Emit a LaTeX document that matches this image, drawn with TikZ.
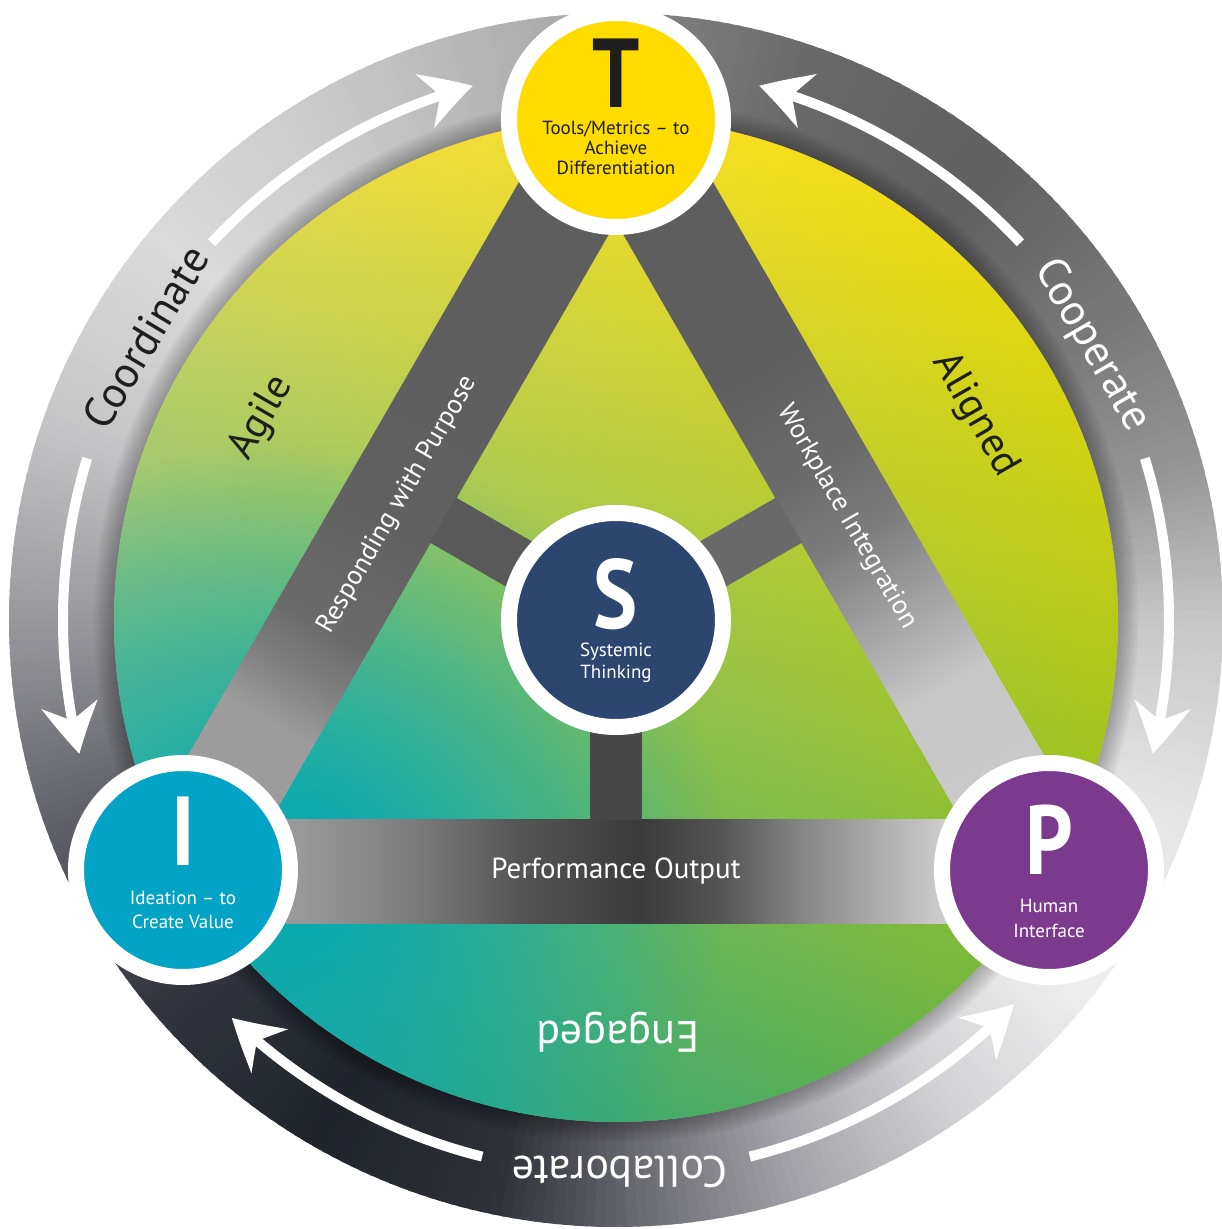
\documentclass[tikz,border=0pt]{standalone}
\usepackage{graphicx}
\usepackage{fontspec}
\setmainfont{PT Sans}
\usetikzlibrary{arrows.meta,bending,shadings,fadings}

\definecolor{tyellow}{HTML}{FFDC00}
\definecolor{iblue}{HTML}{02A3C4}
\definecolor{snavy}{HTML}{2C4670}
\definecolor{ppurple}{HTML}{7C3A8E}
\definecolor{ink}{HTML}{1E1E1E}
\definecolor{dUL}{HTML}{F0DE50}
\definecolor{dUR}{HTML}{FFE000}
\definecolor{dLL}{HTML}{10A0B0}
\definecolor{dLR}{HTML}{70B430}
\definecolor{teal}{HTML}{00A9B6}
\definecolor{rg1}{HTML}{A4A4A4}
\definecolor{rg2}{HTML}{CACACA}
\definecolor{rg3}{HTML}{DADADA}
\definecolor{rg4}{HTML}{C6C6C8}
\definecolor{rg5}{HTML}{98989D}
\definecolor{rg6}{HTML}{606168}
\definecolor{rg7}{HTML}{32353D}
\definecolor{rg8}{HTML}{20242B}
\definecolor{rg9}{HTML}{2D3037}
\definecolor{rg10}{HTML}{696970}
\definecolor{rg11}{HTML}{A3A3A9}
\definecolor{rg12}{HTML}{D3D3D6}
\definecolor{rg13}{HTML}{EFEFEF}
\definecolor{rg14}{HTML}{E6E6E6}
\definecolor{rg15}{HTML}{C6C6C6}
\definecolor{rg16}{HTML}{959595}
\definecolor{rg17}{HTML}{7A7A7A}
\definecolor{rg18}{HTML}{606060}
\definecolor{rg19}{HTML}{686868}
\definecolor{rg20}{HTML}{868686}

\pgfdeclareverticalshading{leftbar}{100bp}{color(0bp)=(black!36); color(33bp)=(black!39);
  color(36.5bp)=(black!50); color(40bp)=(black!58); color(48bp)=(black!62); color(60bp)=(black!63);
  color(100bp)=(black!64)}
\pgfdeclareverticalshading{rightbar}{100bp}{color(0bp)=(black!18); color(35.5bp)=(black!22);
  color(37.7bp)=(black!28); color(41.4bp)=(black!37); color(46.7bp)=(black!51); color(52bp)=(black!58);
  color(60bp)=(black!63); color(100bp)=(black!64)}
\pgfdeclarehorizontalshading{perfbar}{100bp}{color(0bp)=(black!40); color(26bp)=(black!40);
  color(35bp)=(black!52); color(42.7bp)=(black!67); color(51.7bp)=(black!77); color(57.8bp)=(black!67);
  color(63.8bp)=(black!48); color(71.4bp)=(black!28); color(74.5bp)=(black!20); color(100bp)=(black!20)}
\tikzfading[name=glowfade, inner color=transparent!0, outer color=transparent!100]

\tikzset{
  hub/.style={circle, draw=white, line width=16pt, minimum size=214pt, inner sep=0pt},
  letter/.style={font=\fontsize{98}{98}\selectfont\bfseries, text=white, inner sep=0pt},
  hublabel/.style={font=\fontsize{19}{24}\selectfont, align=center, text=white, inner sep=0pt},
  ringlabel/.style={font=\fontsize{44}{44}\selectfont, inner sep=0pt},
  zonelabel/.style={font=\fontsize{41}{41}\selectfont, inner sep=0pt},
  barlabel/.style={font=\fontsize{27}{27}\selectfont, text=white, inner sep=0pt},
  ringarrow/.style={draw=white, line width=10pt, -{Stealth[length=50pt,width=56pt,inset=16pt,bend]}},
  spoke/.style={line width=52pt},
}

\begin{document}
\begin{tikzpicture}[x=1pt,y=1pt]
  \useasboundingbox (-616,-609) rectangle (606,620);

  % outer ring
  \foreach \angA/\angB/\colA/\colB in {90/120/rg1/rg2,120/140/rg2/rg3,140/160/rg3/rg4,160/180/rg4/rg5,
      180/200/rg5/rg6,200/220/rg6/rg7,220/240/rg7/rg8,240/258/rg8/rg9,258/272/rg9/rg10,272/288/rg10/rg11,
      288/305/rg11/rg12,305/322/rg12/rg13,322/340/rg13/rg14,340/360/rg14/rg15,360/375/rg15/rg16,
      375/390/rg16/rg17,390/410/rg17/rg18,410/430/rg18/rg19,430/450/rg19/rg20}{
    \pgfmathtruncatemacro\nn{\angB-\angA}
    \foreach \k in {1,...,\nn}{
      \pgfmathtruncatemacro\pc{100*(\k-0.5)/\nn}
      \pgfmathsetmacro\ang{\angA+\k-1}
      \fill[\colB!\pc!\colA] (\ang:607) arc[start angle=\ang, end angle=\ang+1.4, radius=607]
        -- (\ang+1.4:502) arc[start angle=\ang+1.4, end angle=\ang, radius=502] -- cycle;
    }
  }
  \foreach \k in {1,...,8}{
    \draw[black, opacity=0.035, line width=\k*5pt] (0,0) circle (502);
  }

  % inner disk
  \shade[upper left=dUL, upper right=dUR, lower left=dLL, lower right=dLR] (0,0) circle (502);
  \begin{scope}
    \clip (0,0) circle (502);
    \fill[teal, path fading=glowfade] (-320,-250) circle (430);
  \end{scope}

  % triangle bars
  \coordinate (oT) at (90:606);
  \coordinate (oI) at (210:606);
  \coordinate (oP) at (330:606);
  \coordinate (iT) at (90:398);
  \coordinate (iI) at (210:398);
  \coordinate (iP) at (330:398);
  \shade[shading=leftbar, shading angle=-30] (oT) -- (oI) -- (iI) -- (iT) -- cycle;
  \shade[shading=rightbar, shading angle=30] (oT) -- (oP) -- (iP) -- (iT) -- cycle;
  \shade[shading=perfbar] (-330,-303) rectangle (332,-199);

  \coordinate (c) at (0,0);
  \coordinate (mL) at (150:200);
  \coordinate (mR) at (30:200);
  \coordinate (mB) at (270:200);
  \draw[spoke, black!65] (c) -- (mL);
  \draw[spoke, black!59] (c) -- (mR);
  \draw[spoke, black!72] (c) -- (mB);

  \node[barlabel, rotate=60] (rwp) at (-218,115) {Responding with Purpose};
  \node[barlabel, rotate=-60] (wpi) at (231,103) {Workplace Integration};
  \node[barlabel, font=\fontsize{29}{29}\selectfont] (po) at (0,-251) {Performance Output};

  \node[zonelabel, text=ink, rotate=60] (agile) at (-354,202) {Agile};
  \node[zonelabel, text=ink, rotate=-60] (aligned) at (359,205) {Aligned};
  \node[zonelabel, text=white, rotate=180, font=\fontsize{44}{44}\selectfont] (engaged) at (2,-412) {Engaged};

  % ring arrows and words
  \draw[ringarrow] (137:553) arc[start angle=137, end angle=105, radius=553];
  \draw[ringarrow] (163:553) arc[start angle=163, end angle=194, radius=553];
  \draw[ringarrow] (43:553) arc[start angle=43, end angle=75, radius=553];
  \draw[ringarrow] (17:553) arc[start angle=17, end angle=-14, radius=553];
  \draw[ringarrow] (284:553) arc[start angle=284, end angle=316, radius=553];
  \draw[ringarrow] (256:553) arc[start angle=256, end angle=226, radius=553];

  \node[ringlabel, text=ink, rotate=59] (coord) at (149:549) {Coordinate};
  \node[ringlabel, text=white, rotate=-60] (coop) at (30:549) {Cooperate};
  \node[ringlabel, text=white, rotate=180] (collab) at (270.4:552) {Collaborate};

  % hubs
  \node[hub, fill=tyellow] (T) at (90:500) {};
  \node[letter, text=ink] (Tl) at ([yshift=47pt]T.center) {\scalebox{0.85}[1]{T}};
  \node[hublabel, text=ink, font=\fontsize{19}{20}\selectfont] (Tt) at ([yshift=-28pt]T.center)
    {Tools/Metrics – to\\Achieve\\Differentiation};

  \node[hub, fill=iblue] (I) at (210:500) {};
  \node[letter] (Il) at ([yshift=39pt]I.center) {\scalebox{0.85}[1]{I}};
  \node[hublabel] (It) at ([yshift=-40pt]I.center) {Ideation – to\\Create Value};

  \node[hub, fill=snavy] (S) at (c) {};
  \node[letter] (Sl) at ([yshift=26pt]S.center) {\scalebox{0.85}[1]{S}};
  \node[hublabel, font=\fontsize{19}{22}\selectfont] (St) at ([yshift=-43pt]S.center) {Systemic\\Thinking};

  \node[hub, fill=ppurple] (P) at (330:500) {};
  \node[letter] (Pl) at ([yshift=30pt]P.center) {\scalebox{0.85}[1]{P}};
  \node[hublabel, font=\fontsize{19}{25}\selectfont] (Pt) at ([yshift=-48pt]P.center) {Human\\Interface};
\end{tikzpicture}
\end{document}
